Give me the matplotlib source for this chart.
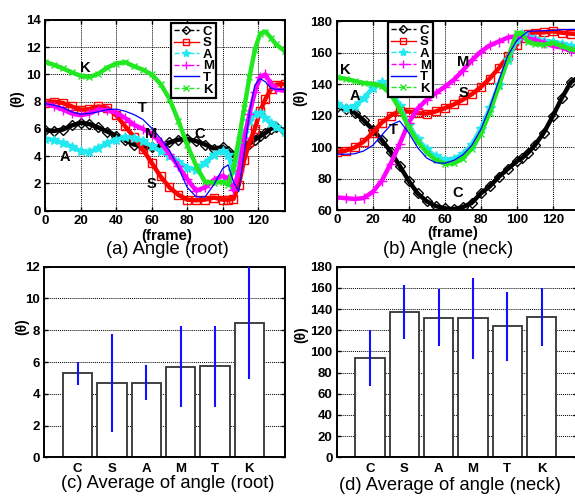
import numpy as np
import matplotlib.pyplot as plt
from matplotlib.lines import Line2D

plt.rcParams['font.family'] = ['Liberation Sans', 'DejaVu Sans']

# ---- data ----
names = ['C', 'S', 'A', 'M', 'T', 'K']

root_frames = [0, 5, 10, 15, 20, 25, 30, 35, 40, 45, 50, 55, 60, 65, 70, 75, 80, 85, 90, 95, 100,
               103, 106, 109, 112, 115, 118, 121, 124, 127, 130, 135]
root_C = [5.9, 5.85, 5.95, 6.25, 6.45, 6.35, 6.1, 5.8, 5.5, 5.15, 4.85, 4.7, 4.7, 4.75, 5.0, 5.2, 5.25,
          5.1, 4.85, 4.55, 4.65, 4.4, 4.0, 4.3, 4.6, 4.9, 5.2, 5.45, 5.7, 6.0, 6.15, 5.85]
root_S = [7.9, 8.0, 7.9, 7.65, 7.4, 7.45, 7.65, 7.55, 7.0, 6.2, 5.4, 4.5, 3.5, 2.5, 1.7, 1.15, 0.8,
          0.75, 0.8, 0.95, 0.8, 0.8, 0.85, 1.9, 3.7, 5.0, 6.0, 7.3, 8.2, 8.9, 9.25, 9.3]
root_A = [5.28, 5.15, 4.95, 4.7, 4.35, 4.3, 4.6, 4.95, 5.2, 5.4, 5.35, 5.1, 4.75, 4.35, 4.0, 3.6, 3.15,
          3.0, 3.5, 4.1, 4.4, 4.1, 2.9, 4.3, 5.7, 6.6, 7.1, 7.15, 6.8, 6.4, 6.1, 5.75]
root_M = [7.86, 7.67, 7.42, 7.13, 7.0, 7.13, 7.42, 7.37, 7.2, 6.8, 6.3, 6.0, 5.65, 5.0, 4.15, 3.25, 2.3,
          1.45, 1.7, 2.25, 2.55, 2.35, 1.5, 2.9, 5.3, 7.1, 8.7, 9.8, 10.0, 9.3, 8.9, 8.8]
root_T = [7.86, 7.74, 7.57, 7.25, 7.08, 7.13, 7.25, 7.42, 7.45, 7.3, 7.05, 6.7, 6.05, 5.3, 4.4, 3.15, 1.7,
          1.0, 1.0, 1.9, 3.1, 3.35, 2.1, 1.4, 4.2, 7.2, 9.2, 9.7, 9.45, 9.0, 8.9, 8.9]
root_K = [10.93, 10.7, 10.45, 10.15, 9.9, 9.8, 10.05, 10.5, 10.8, 10.9, 10.6, 10.35, 10.0, 9.3, 8.2, 6.6,
          4.8, 3.3, 2.1, 2.05, 2.1, 1.9, 3.1, 5.2, 7.5, 9.8, 11.8, 13.0, 13.15, 12.7, 12.2, 11.7]

neck_frames = [0, 5, 10, 15, 20, 25, 30, 35, 40, 45, 50, 55, 60, 65, 70, 75, 80, 85, 90, 95, 100,
               103, 106, 110, 115, 120, 125, 130, 135]
neck_C = [125.7, 124.4, 121.7, 117, 111, 104.5, 97, 88, 78.5, 70.5, 65.5, 62.5, 61, 60.6, 61.8, 64.5,
          70.5, 75, 81, 86, 91, 93, 96, 101, 109, 119.5, 131, 141, 145]
neck_S = [96.8, 97.7, 99.7, 103.5, 109, 115.5, 120, 122.8, 122.5, 121.5, 121.2, 122.6, 124.7, 127, 130,
          133.5, 138, 143.5, 150, 157.5, 165, 169.5, 171.5, 172.6, 172.8, 173.5, 172.6, 172, 171.6]
neck_A = [127, 125, 126, 131, 137.5, 141, 137, 126, 114, 105, 98.5, 94, 92, 92.5, 95.5, 101.5, 111.5,
          124.5, 139.5, 155, 168, 172, 170, 168.4, 167.4, 166.8, 165.7, 164.2, 163.2]
neck_M = [68, 67.5, 67, 67.6, 71.5, 78.5, 89.5, 102, 115.5, 124.5, 130, 134.2, 138.2, 142.6, 148.5, 155,
          160.5, 164.5, 167, 169.5, 170.5, 170, 169, 168, 166.3, 164.2, 163.2, 161, 160]
neck_T = [95.4, 95.4, 95.7, 97.5, 101, 107.5, 114, 116.5, 109, 99.5, 93, 90, 89.7, 91.5, 95, 101, 111,
          125, 142, 158, 167.5, 170.5, 173.3, 173.7, 173.8, 174.1, 174.5, 174.7, 174.7]
neck_K = [144.2, 143.3, 141.9, 140.6, 140.1, 138.8, 133.6, 124, 112.6, 103.4, 96.5, 91.8, 89.4, 89.6,
          92.7, 99, 108.4, 121.9, 138.6, 155.9, 172.5, 172, 167, 165.5, 164.9, 166.2, 164.2, 162.1, 161]

root_mean = [5.29, 4.70, 4.70, 5.71, 5.73, 8.45]
root_std = [0.72, 3.08, 1.09, 2.57, 2.55, 3.5]
neck_mean = [93.5, 137.2, 131.8, 131.2, 123.7, 132.5]
neck_std = [26.5, 25.5, 27.0, 38.0, 32.6, 27.8]

# ---- styles ----
styles = {
    'C': dict(color='black', marker='D', mfc='none', ms=4, ls='--'),
    'S': dict(color='#ff0000', marker='s', mfc='none', ms=5, ls='-'),
    'A': dict(color='#22e8f0', marker='*', mfc='#22e8f0', ms=6, ls='--'),
    'M': dict(color='#ff00ff', marker='+', mfc='#ff00ff', ms=6, ls='--'),
    'T': dict(color='#0000ff', marker='', mfc='none', ms=0, ls='-'),
    'K': dict(color='#22e822', marker='x', mfc='#22e822', ms=4, ls='--'),
}

fig = plt.figure(figsize=(5.75, 4.96), dpi=100)
ax_a = fig.add_axes([0.0783, 0.5756, 0.4174, 0.3841])
ax_b = fig.add_axes([0.5856, 0.5766, 0.4226, 0.3810])
ax_c = fig.add_axes([0.0770, 0.0780, 0.4186, 0.3843])
ax_d = fig.add_axes([0.5856, 0.0780, 0.4186, 0.3843])


def style_axes(ax, xgrid=True):
    for sp in ax.spines.values():
        sp.set_linewidth(1.4)
    ax.tick_params(direction='in', length=3, width=1, right=True, top=xgrid, labelsize=9.5, pad=3)
    for lab in ax.get_xticklabels() + ax.get_yticklabels():
        lab.set_fontweight('bold')
    ax.grid(True, axis='both' if xgrid else 'y', color='black', lw=0.7, ls=(0, (1, 1)))
    ax.set_axisbelow(True)


def draw_lines(ax, frames, series):
    for n in names:
        st = styles[n]
        if n == 'T':
            ax.plot(frames, series[n], color=st['color'], lw=0.9, zorder=3)
        else:
            ax.plot(frames, series[n], color=st['color'], lw=3.2, solid_capstyle='round', zorder=2)
            ax.plot(frames, series[n], color=st['color'], lw=0, marker=st['marker'],
                    mfc=st['mfc'], ms=st['ms'] + 1, mew=1.0, zorder=2)


def add_legend(ax, x0, y0):
    handles = []
    for n in names:
        st = styles[n]
        handles.append(Line2D([], [], color=st['color'], ls=st['ls'], lw=1,
                              marker=st['marker'] or None, mfc=st['mfc'], ms=st['ms'],
                              mew=1.0, markevery=[1]))
    leg = ax.legend(handles, names, loc='upper left', bbox_to_anchor=(x0, y0),
                    borderaxespad=0, fancybox=False, framealpha=1, edgecolor='black',
                    prop=dict(size=9.5, weight='bold'), labelspacing=-0.05,
                    handlelength=1.9, handletextpad=0.3, borderpad=0.2)
    leg.get_frame().set_linewidth(1.6)
    leg.set_zorder(10)


# (a) root angle
draw_lines(ax_a, root_frames, dict(C=root_C, S=root_S, A=root_A, M=root_M, T=root_T, K=root_K))
ax_a.set_xlim(0, 135)
ax_a.set_ylim(0, 14)
ax_a.set_xticks(range(0, 121, 20))
ax_a.set_yticks(range(0, 15, 2))
style_axes(ax_a)
add_legend(ax_a, 0.525, 0.985)
for t, x, y in [('K', 22.5, 10.5), ('T', 55, 7.5), ('M', 59.5, 5.6), ('C', 87, 5.65),
                ('A', 11, 3.9), ('S', 60, 1.95)]:
    ax_a.text(x, y, t, fontsize=10.5, fontweight='bold', ha='center', va='center', zorder=5)

# (b) neck angle
draw_lines(ax_b, neck_frames, dict(C=neck_C, S=neck_S, A=neck_A, M=neck_M, T=neck_T, K=neck_K))
ax_b.set_xlim(0, 135)
ax_b.set_ylim(60, 180)
ax_b.set_xticks(range(0, 121, 20))
ax_b.set_yticks(range(60, 181, 20))
style_axes(ax_b)
add_legend(ax_b, 0.211, 0.995)
for t, x, y in [('K', 4.6, 149), ('A', 10.2, 132.5), ('T', 31.5, 110.5), ('M', 70.4, 154),
                ('S', 70.4, 134), ('C', 67.2, 70.5)]:
    ax_b.text(x, y, t, fontsize=10.5, fontweight='bold', ha='center', va='center', zorder=5)

# (c), (d) averages
xpos = np.arange(len(names))
for ax, mean, std, top, step in [(ax_c, root_mean, root_std, 12, 2), (ax_d, neck_mean, neck_std, 180, 20)]:
    ax.bar(xpos, mean, width=0.85, color='white', edgecolor='#333333', lw=1.3, zorder=2)
    ax.errorbar(xpos, mean, yerr=std, fmt='none', ecolor='#1010ff', elinewidth=1.5, capsize=0, zorder=3)
    ax.set_xlim(-0.97, 6.04)
    ax.set_ylim(0, top)
    ax.set_yticks(np.arange(0, top + 1, step))
    ax.set_xticks(xpos)
    ax.set_xticklabels(names)
    style_axes(ax, xgrid=False)
    ax.tick_params(axis='x', length=0, pad=4)

# axis labels and captions
for x, y in [(17, 99), (300, 98), (22, 327), (301, 335)]:
    fig.text(x / 575, 1 - y / 496, '(θ)', rotation=90, fontsize=10, fontweight='bold',
             ha='center', va='center')
fig.text(167 / 575, 1 - 236 / 496, '(frame)', fontsize=10.8, fontweight='bold', ha='center', va='center')
fig.text(453 / 575, 1 - 233 / 496, '(frame)', fontsize=10.8, fontweight='bold', ha='center', va='center')
cap = dict(fontsize=13.2, ha='center', va='center')
fig.text(167 / 575, 1 - 250 / 496, '(a) Angle (root)', **cap)
fig.text(448 / 575, 1 - 250 / 496, '(b) Angle (neck)', **cap)
fig.text(168 / 575, 1 - 484 / 496, '(c) Average of angle (root)', **cap)
fig.text(450 / 575, 1 - 485 / 496, '(d) Average of angle (neck)', **cap)

fig.savefig('out.png', dpi=100)
